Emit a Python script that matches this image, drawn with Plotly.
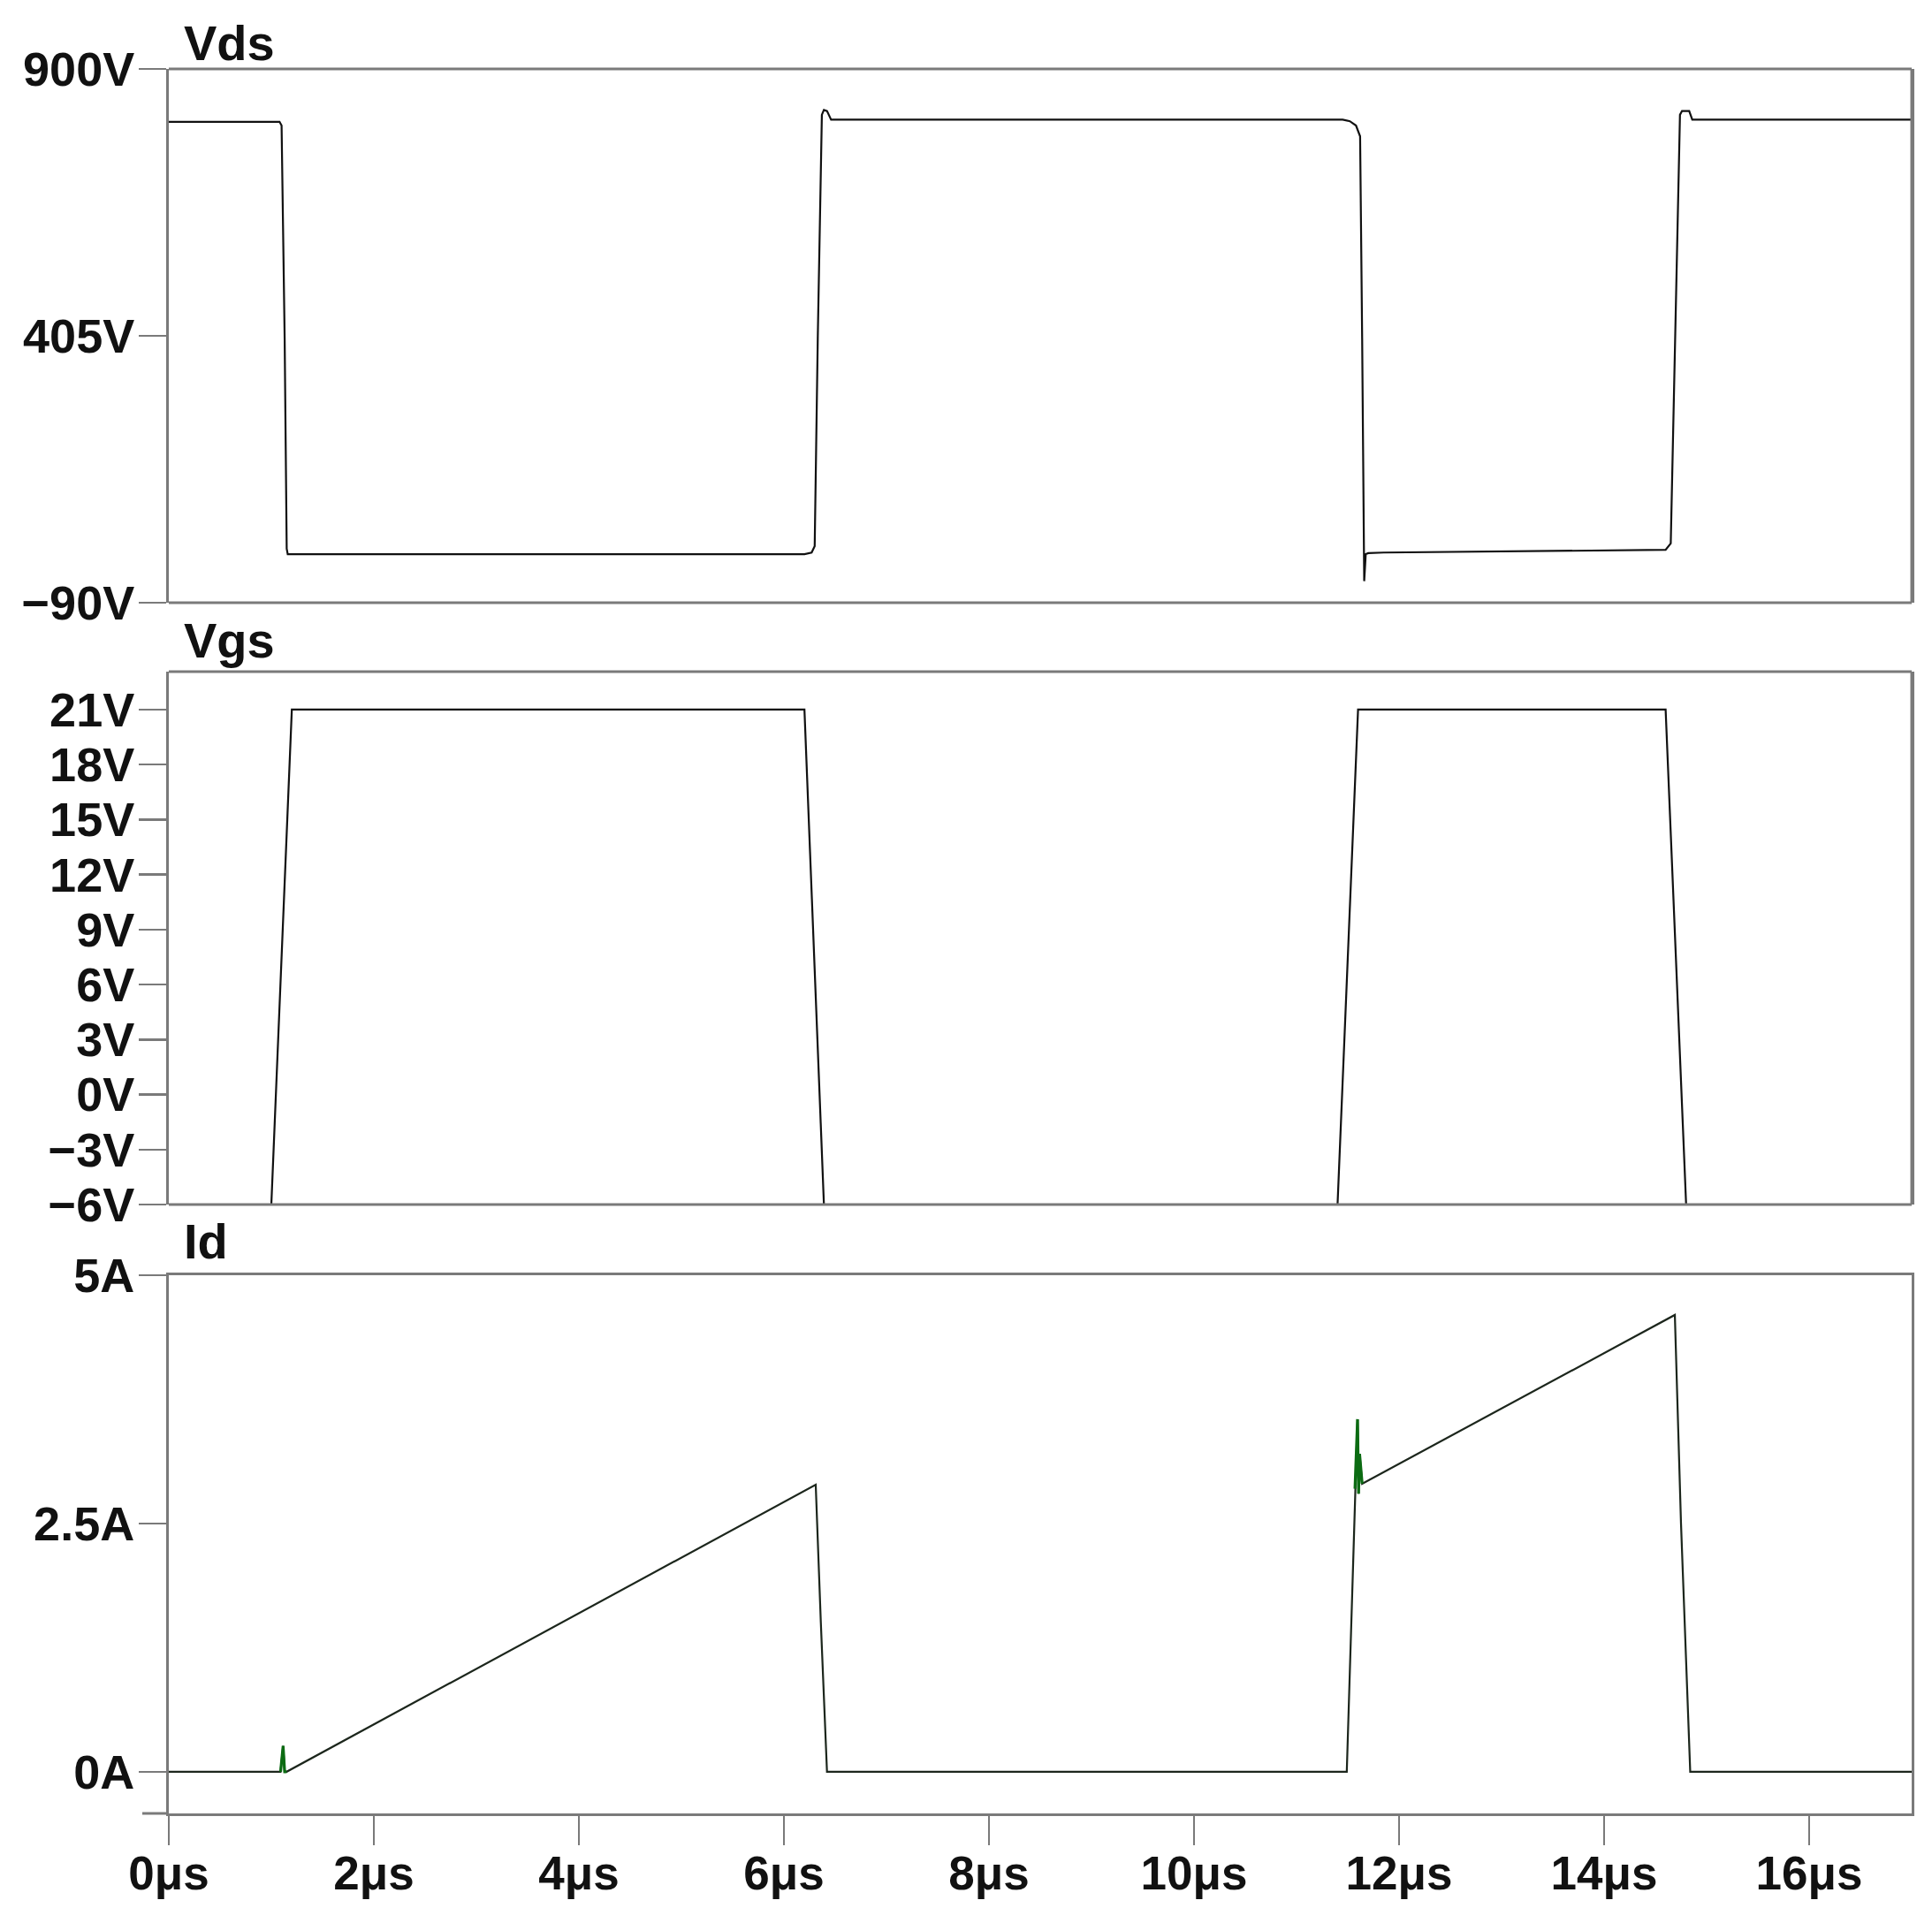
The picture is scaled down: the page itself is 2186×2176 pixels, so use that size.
import plotly.graph_objects as go

# ---------------- data ----------------
x_ticks = [0, 2, 4, 6, 8, 10, 12, 14, 16]
x_ticktext = ["0μs", "2μs", "4μs", "6μs", "8μs", "10μs", "12μs", "14μs", "16μs"]

t_vds = [0, 1.08, 1.10, 1.13, 1.15, 1.16,
         6.20, 6.27, 6.30, 6.33, 6.37, 6.39, 6.42, 6.46,
         11.45, 11.52, 11.58, 11.62, 11.64, 11.66, 11.675, 11.70, 11.85,
         14.60, 14.65, 14.69, 14.74, 14.76, 14.83, 14.86, 17.0]
v_vds = [802, 802, 795, 400, 10, 0,
         0, 3, 15, 400, 815, 824, 822, 806,
         806, 803, 795, 775, 400, -50, 0, 2, 3,
         8, 20, 400, 815, 822, 822, 806, 806]

t_vgs = [0, 1.0, 1.2, 6.2, 6.39, 11.40, 11.60, 14.60, 14.80, 17.0]
v_vgs = [-6, -6, 21, 21, -6, -6, 21, 21, -6, -6]

t_id = [0, 1.09, 1.115, 1.13, 1.15, 6.31, 6.36, 6.42, 11.49, 11.57, 11.595, 11.605, 11.615, 11.64, 14.69, 14.75, 14.84, 17.0]
i_id = [0, 0, 0.26, 0, 0, 2.89, 1.5, 0, 0, 2.85, 3.55, 2.80, 3.2, 2.9, 4.60, 2.5, 0, 0]
spike_idx = [(1, 4), (9, 13)]  # inclusive index ranges drawn in green

vds_ticks = [-90, 405, 900]
vds_ticktext = ["\u221290V", "405V", "900V"]
vgs_ticks = [-6, -3, 0, 3, 6, 9, 12, 15, 18, 21]
vgs_ticktext = ["\u22126V", "\u22123V", "0V", "3V", "6V", "9V", "12V", "15V", "18V", "21V"]
id_ticks = [0, 2.5, 5]
id_ticktext = ["0A", "2.5A", "5A"]

# ---------------- figure ----------------
W, H = 2186, 2176
L, R, T, B = 191, 23, 78, 124
plot_w = W - L - R
plot_h = H - T - B


def dom(top_px, bot_px):
    return [(H - B - bot_px) / plot_h, (H - B - top_px) / plot_h]


fig = go.Figure()
line_col = "#111111"
fig.add_trace(go.Scatter(x=t_vds, y=v_vds, mode="lines", line=dict(color=line_col, width=2.2),
                         xaxis="x", yaxis="y"))
fig.add_trace(go.Scatter(x=t_vgs, y=v_vgs, mode="lines", line=dict(color=line_col, width=2.2),
                         xaxis="x", yaxis="y2"))
fig.add_trace(go.Scatter(x=t_id, y=i_id, mode="lines", line=dict(color="#1c261c", width=2.2),
                         xaxis="x", yaxis="y3"))
for a, b in spike_idx:
    fig.add_trace(go.Scatter(x=t_id[a:b + 1], y=i_id[a:b + 1], mode="lines",
                             line=dict(color="#0b6b12", width=3.2), xaxis="x", yaxis="y3"))

axcol = "#7a7a7a"
tickfont = dict(family="Liberation Sans, Arial, sans-serif", size=54, color="#111111", weight="bold")
xfont = dict(family="Liberation Sans, Arial, sans-serif", size=53, color="#111111", weight="bold")

common_y = dict(showline=True, linecolor=axcol, linewidth=3, mirror=True, showgrid=False, zeroline=False,
                ticks="outside", ticklen=31, tickwidth=2.5, tickcolor=axcol, tickfont=tickfont,
                tickmode="array", anchor="x", ticklabelstandoff=-6)

fig.update_layout(
    width=W, height=H, margin=dict(l=L, r=R, t=T, b=B, autoexpand=False),
    paper_bgcolor="white", plot_bgcolor="white", showlegend=False,
    xaxis=dict(range=[0, 17], domain=[0, 1], showline=True, linecolor=axcol, linewidth=3, mirror=True,
               showgrid=False, zeroline=False, ticks="outside", ticklen=33, tickwidth=2.5, tickcolor=axcol,
               tickmode="array", tickvals=x_ticks, ticktext=x_ticktext, tickfont=xfont, anchor="y3",
               ticklabelstandoff=-14),
    yaxis=dict(range=[-90, 900], domain=dom(78, 682), tickvals=vds_ticks, ticktext=vds_ticktext, **common_y),
    yaxis2=dict(range=[-6, 23.07], domain=dom(760, 1363), tickvals=vgs_ticks, ticktext=vgs_ticktext, **common_y),
    yaxis3=dict(range=[-0.42, 5], domain=dom(1443, 2052), tickvals=id_ticks, ticktext=id_ticktext, **common_y),
)

# frame lines for the upper panels (shared x axis is anchored on the bottom panel)
for lo, hi in [dom(78, 682), dom(760, 1363)]:
    for yy in (lo, hi):
        fig.add_shape(type="line", xref="paper", yref="paper", x0=0, x1=1, y0=yy, y1=yy,
                      line=dict(color=axcol, width=3))
    fig.add_shape(type="line", xref="paper", yref="paper", x0=1, x1=1, y0=lo, y1=hi,
                  line=dict(color=axcol, width=3))
fig.add_shape(type="line", xref="paper", yref="paper", x0=-30 / plot_w, x1=0, y0=0, y1=0,
              line=dict(color=axcol, width=3))

titles = [("Vds", 48), ("Vgs", 724), ("Id", 1404)]
for txt, ypx in titles:
    fig.add_annotation(text=txt, xref="paper", yref="paper", x=(206 - L) / plot_w,
                       y=(H - B - ypx) / plot_h, xanchor="left", yanchor="middle", showarrow=False,
                       font=dict(family="Liberation Sans, Arial, sans-serif", size=56, color="#111111",
                                 weight="bold"))

fig.write_html("out.html", post_script="document.body.style.margin='0';",
               config={"displayModeBar": False, "staticPlot": True})
